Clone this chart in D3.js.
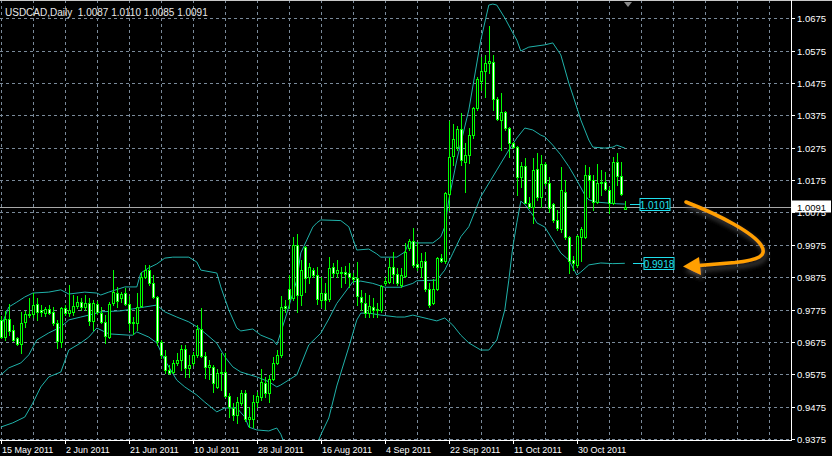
<!DOCTYPE html>
<html>
<head>
<meta charset="utf-8">
<script src="https://cdn.jsdelivr.net/npm/d3@7"></script>
<style>
  html, body { margin: 0; padding: 0; background: #000; }
  svg { display: block; font-family: "Liberation Sans", Arial, sans-serif; }
</style>
</head>
<body>
<div id="chart"></div>
<script>
// USDCAD daily candles, 15 May 2011 .. 4 Nov 2011
const OPEN = [0.9743,0.9690,0.9746,0.9712,0.9687,0.9669,0.9737,0.9761,0.9761,0.9792,0.9774,0.9764,0.9777,0.9768,0.9734,0.9675,0.9780,0.9764,0.9768,0.9786,
  0.9798,0.9783,0.9795,0.9740,0.9792,0.9764,0.9737,0.9690,0.9795,0.9826,0.9811,0.9826,0.9792,0.9737,0.9734,0.9786,0.9876,0.9897,0.9857,0.9814,
  0.9675,0.9632,0.9588,0.9582,0.9610,0.9619,0.9653,0.9594,0.9610,0.9635,0.9715,0.9632,0.9598,0.9598,0.9536,0.9582,0.9582,0.9508,0.9471,0.9449,
  0.9486,0.9517,0.9437,0.9437,0.9489,0.9505,0.9548,0.9517,0.9561,0.9610,0.9635,0.9786,0.9839,0.9811,0.9975,0.9820,0.9968,0.9876,0.9897,0.9882,
  0.9805,0.9826,0.9808,0.9907,0.9888,0.9891,0.9891,0.9888,0.9876,0.9873,0.9814,0.9795,0.9764,0.9783,0.9774,0.9774,0.9857,0.9860,0.9907,0.9885,
  0.9851,0.9879,0.9965,0.9987,0.9916,0.9907,0.9925,0.9839,0.9795,0.9839,0.9934,0.9925,1.0132,1.0250,1.0277,1.0333,1.0231,1.0253,1.0314,1.0398,
  1.0481,1.0512,1.0537,1.0540,1.0426,1.0361,1.0386,1.0336,1.0290,1.0277,1.0185,1.0219,1.0104,1.0092,1.0209,1.0123,1.0225,1.0166,1.0101,1.0052,
  1.0024,1.0138,0.9999,0.9928,0.9913,0.9999,0.9999,1.0191,1.0175,1.0107,1.0166,1.0169,1.0144,1.0103,1.0231,1.0188,1.0087]
const HIGH = [0.9755,0.9771,0.9792,0.9727,0.9690,0.9768,0.9771,0.9811,0.9826,0.9811,0.9789,0.9783,0.9789,0.9783,0.9743,0.9783,0.9789,0.9851,0.9820,0.9817,
  0.9811,0.9820,0.9811,0.9805,0.9802,0.9783,0.9758,0.9798,0.9897,0.9845,0.9829,0.9842,0.9817,0.9752,0.9826,0.9891,0.9913,0.9913,0.9882,0.9816,
  0.9681,0.9650,0.9604,0.9619,0.9641,0.9665,0.9665,0.9635,0.9644,0.9727,0.9780,0.9644,0.9619,0.9604,0.9591,0.9641,0.9641,0.9517,0.9486,0.9505,
  0.9527,0.9527,0.9474,0.9511,0.9520,0.9591,0.9567,0.9573,0.9628,0.9650,0.9817,0.9805,0.9882,0.9999,1.0008,0.9928,0.9970,0.9919,0.9904,0.9907,
  0.9876,0.9857,0.9937,0.9919,0.9928,0.9907,0.9910,0.9919,0.9888,0.9922,0.9836,0.9826,0.9820,0.9811,0.9795,0.9851,0.9876,0.9934,0.9953,0.9904,
  0.9904,0.9981,0.9993,1.0027,0.9984,0.9950,0.9953,0.9857,0.9870,0.9937,0.9947,1.0138,1.0358,1.0348,1.0342,1.0382,1.0290,1.0336,1.0401,1.0494,
  1.0555,1.0562,1.0650,1.0562,1.0432,1.0444,1.0389,1.0339,1.0292,1.0281,1.0231,1.0243,1.0123,1.0243,1.0259,1.0253,1.0231,1.0185,1.0104,1.0083,
  1.0216,1.0175,1.0002,0.9941,1.0004,1.0030,1.0222,1.0216,1.0191,1.0225,1.0206,1.0200,1.0154,1.0246,1.0259,1.0231,1.0110]
const LOW = [0.9687,0.9681,0.9696,0.9678,0.9665,0.9641,0.9721,0.9752,0.9752,0.9743,0.9755,0.9755,0.9761,0.9727,0.9656,0.9659,0.9758,0.9755,0.9758,0.9780,
  0.9774,0.9774,0.9727,0.9712,0.9761,0.9734,0.9672,0.9687,0.9789,0.9783,0.9798,0.9789,0.9712,0.9700,0.9712,0.9783,0.9873,0.9851,0.9811,0.9665,
  0.9625,0.9579,0.9576,0.9579,0.9604,0.9588,0.9567,0.9567,0.9604,0.9628,0.9628,0.9564,0.9561,0.9520,0.9533,0.9527,0.9505,0.9443,0.9434,0.9425,
  0.9480,0.9431,0.9412,0.9412,0.9474,0.9496,0.9505,0.9489,0.9557,0.9607,0.9628,0.9768,0.9780,0.9805,0.9768,0.9789,0.9829,0.9857,0.9876,0.9792,
  0.9783,0.9777,0.9802,0.9876,0.9876,0.9845,0.9857,0.9845,0.9860,0.9789,0.9774,0.9752,0.9752,0.9752,0.9752,0.9768,0.9851,0.9857,0.9857,0.9851,
  0.9845,0.9876,0.9959,0.9907,0.9897,0.9876,0.9832,0.9783,0.9793,0.9836,0.9922,0.9919,1.0083,1.0222,1.0268,1.0222,1.0138,1.0228,1.0305,1.0392,
  1.0453,1.0432,1.0505,1.0392,1.0361,1.0268,1.0330,1.0246,1.0274,1.0129,1.0154,1.0103,1.0089,1.0043,1.0114,1.0092,1.0160,1.0077,1.0046,1.0021,
  1.0015,0.9993,0.9888,0.9897,0.9907,0.9925,0.9996,1.0123,1.0083,1.0103,1.0129,1.0144,1.0073,1.0101,1.0160,1.0129,1.0085]
const CLOSE = [0.9690,0.9746,0.9709,0.9681,0.9669,0.9734,0.9761,0.9758,0.9789,0.9768,0.9768,0.9777,0.9764,0.9734,0.9678,0.9780,0.9764,0.9774,0.9786,0.9798,
  0.9783,0.9795,0.9740,0.9795,0.9768,0.9737,0.9693,0.9792,0.9829,0.9802,0.9823,0.9792,0.9734,0.9733,0.9783,0.9876,0.9897,0.9857,0.9814,0.9678,
  0.9635,0.9588,0.9579,0.9610,0.9619,0.9653,0.9594,0.9604,0.9635,0.9715,0.9632,0.9598,0.9604,0.9548,0.9579,0.9579,0.9508,0.9474,0.9449,0.9489,
  0.9517,0.9437,0.9443,0.9489,0.9508,0.9551,0.9517,0.9561,0.9610,0.9635,0.9783,0.9780,0.9808,0.9975,0.9820,0.9897,0.9873,0.9907,0.9882,0.9808,
  0.9826,0.9805,0.9904,0.9888,0.9897,0.9888,0.9886,0.9876,0.9870,0.9817,0.9798,0.9764,0.9786,0.9774,0.9777,0.9848,0.9863,0.9907,0.9885,0.9857,
  0.9882,0.9953,0.9987,0.9913,0.9907,0.9925,0.9839,0.9789,0.9839,0.9934,0.9925,1.0135,1.0246,1.0302,1.0333,1.0237,1.0253,1.0314,1.0398,1.0487,
  1.0512,1.0537,1.0542,1.0426,1.0364,1.0386,1.0336,1.0290,1.0277,1.0185,1.0219,1.0104,1.0092,1.0206,1.0123,1.0225,1.0166,1.0089,1.0052,1.0027,
  1.0144,0.9999,0.9925,0.9919,1.0002,1.0024,1.0191,1.0175,1.0107,1.0166,1.0169,1.0148,1.0103,1.0231,1.0188,1.0132,1.0091]

// Bollinger bands as [bar, price]
const BB_UPPER = [[0,0.9721],[2,0.9783],[4,0.9798],[6,0.9814],[8,0.9826],[12,0.9829],[15,0.9836],[17,0.9823],[21,0.9829],[24,0.9826],
  [25,0.9820],[27,0.9829],[31,0.9845],[34,0.9845],[35,0.9888],[37,0.9904],[39,0.9916],[41,0.9934],[43,0.9937],[47,0.9937],
  [49,0.9922],[50,0.9897],[54,0.9888],[55,0.9845],[57,0.9774],[59,0.9718],[60,0.9709],[63,0.9715],[65,0.9696],[68,0.9681],
  [69,0.9666],[71,0.9743],[74,0.9866],[75,0.9950],[78,1.0030],[79,1.0043],[80,1.0052],[85,1.0050],[87,1.0031],[89,0.9959],
  [92,0.9962],[94,0.9947],[95,0.9937],[99,0.9937],[101,0.9953],[102,0.9981],[108,0.9981],[109,0.9990],[110,1.0000],[111,1.0031],
  [112,1.0114],[114,1.0237],[117,1.0392],[120,1.0608],[122,1.0716],[123,1.0719],[124,1.0716],[126,1.0676],[128,1.0630],[129,1.0608],
  [130,1.0574],[132,1.0586],[136,1.0593],[138,1.0599],[140,1.0562],[142,1.0475],[143,1.0438],[145,1.0361],[147,1.0299],[148,1.0277],
  [151,1.0274],[153,1.0277],[154,1.0283],[156,1.0274]]
const BB_MIDDLE = [[0,0.9573],[2,0.9595],[5,0.9610],[7,0.9635],[9,0.9681],[12,0.9703],[15,0.9721],[17,0.9743],[20,0.9752],[23,0.9761],
  [25,0.9768],[30,0.9771],[33,0.9777],[36,0.9783],[39,0.9789],[41,0.9768],[44,0.9752],[47,0.9737],[49,0.9722],[51,0.9703],
  [54,0.9671],[56,0.9629],[58,0.9598],[60,0.9582],[64,0.9567],[67,0.9552],[69,0.9536],[70,0.9542],[74,0.9573],[77,0.9666],
  [80,0.9702],[82,0.9746],[84,0.9794],[87,0.9844],[88,0.9861],[90,0.9863],[93,0.9856],[96,0.9844],[100,0.9844],[103,0.9856],
  [104,0.9864],[109,0.9866],[111,0.9897],[113,0.9949],[115,1.0000],[117,1.0031],[120,1.0124],[124,1.0206],[127,1.0268],[129,1.0305],
  [131,1.0336],[133,1.0330],[135,1.0314],[136,1.0309],[138,1.0283],[140,1.0253],[142,1.0217],[144,1.0175],[146,1.0129],[147,1.0114],
  [149,1.0107],[152,1.0104],[154,1.0102],[156,1.0101]]
const BB_LOWER = [[0,0.9412],[3,0.9425],[6,0.9443],[8,0.9486],[10,0.9536],[12,0.9567],[15,0.9582],[17,0.9650],[20,0.9672],[22,0.9690],
  [24,0.9718],[26,0.9706],[27,0.9700],[32,0.9696],[33,0.9696],[34,0.9706],[37,0.9690],[39,0.9672],[41,0.9619],[44,0.9557],
  [46,0.9536],[49,0.9511],[51,0.9489],[54,0.9459],[56,0.9471],[59,0.9471],[61,0.9443],[62,0.9412],[64,0.9403],[67,0.9400],
  [69,0.9409],[70,0.9390],[72,0.9326],[75,0.9295],[77,0.9341],[79,0.9357],[80,0.9388],[82,0.9440],[84,0.9539],[87,0.9659],
  [89,0.9743],[90,0.9764],[92,0.9764],[95,0.9758],[99,0.9752],[101,0.9752],[103,0.9758],[107,0.9746],[109,0.9740],[111,0.9749],
  [113,0.9727],[115,0.9696],[117,0.9672],[120,0.9650],[122,0.9650],[124,0.9681],[126,0.9774],[127,0.9866],[128,0.9968],[129,1.0043],
  [130,1.0110],[131,1.0100],[133,1.0067],[134,1.0043],[136,1.0030],[138,0.9990],[140,0.9950],[142,0.9928],[144,0.9882],[145,0.9891],
  [147,0.9913],[150,0.9919],[153,0.9917],[156,0.9918]]

const PRICE_TICKS = [0.9375,0.9475,0.9575,0.9675,0.9775,0.9875,0.9975,1.0075,1.0175,1.0275,1.0375,1.0475,1.0575,1.0675]
const DATE_BARS = [0,16,32,48,64,80,96,112,128,144]
const DATE_LABELS = ['15 May 2011','2 Jun 2011','21 Jun 2011','10 Jul 2011','28 Jul 2011','16 Aug 2011','4 Sep 2011','22 Sep 2011','11 Oct 2011','30 Oct 2011']
const SYMBOL = 'USDCAD,Daily'

const WIDTH = 832, HEIGHT = 456
const PLOT_W = 791, PLOT_H = 440
const GRID_STEP = 8
const CANDLE = '#00ff00', BAND = '#20b2aa', GRID = '#7a8a9a', LABEL_BOX = '#1fe0ee'
const FMT = d3.format('.4f')

let svg = d3.select('#chart').append('svg')
  .attr('width', WIDTH)
  .attr('height', HEIGHT)

svg.append('rect').attr('width', WIDTH).attr('height', HEIGHT).attr('fill', '#000')

let defs = svg.append('defs')
defs.append('clipPath').attr('id', 'plot')
  .append('rect').attr('width', PLOT_W).attr('height', PLOT_H)
let shadow = defs.append('filter').attr('id', 'shadow')
  .attr('x', '-20%').attr('y', '-20%').attr('width', '140%').attr('height', '140%')
shadow.append('feDropShadow')
  .attr('dx', 2).attr('dy', 4).attr('stdDeviation', 2.5)
  .attr('flood-color', '#505050').attr('flood-opacity', 0.9)

let x = d3.scaleLinear().domain([0, 1]).range([0.8, 4.8])
let y = d3.scaleLinear().domain([0.9372, 1.07316]).range([PLOT_H, 0])
let crisp = (v) => Math.round(v) + 0.5

let plot = svg.append('g').attr('clip-path', 'url(#plot)')

// grid
let lastBar = Math.floor((PLOT_W - 0.8) / 4)
plot.append('g')
  .selectAll('line')
  .data(d3.range(0, lastBar + 1, GRID_STEP))
  .enter().append('line')
    .attr('x1', (d) => crisp(x(d)))
    .attr('x2', (d) => crisp(x(d)))
    .attr('y1', 0).attr('y2', PLOT_H)
    .attr('stroke', GRID).attr('stroke-dasharray', '3,3')

plot.append('g')
  .selectAll('line')
  .data(PRICE_TICKS)
  .enter().append('line')
    .attr('x1', 0).attr('x2', PLOT_W)
    .attr('y1', (d) => crisp(y(d)))
    .attr('y2', (d) => crisp(y(d)))
    .attr('stroke', GRID).attr('stroke-dasharray', '3,3')

// bollinger bands
let bandLine = d3.line()
  .x((d) => x(d[0]))
  .y((d) => y(d[1]))

plot.append('g')
  .selectAll('path')
  .data([BB_UPPER, BB_MIDDLE, BB_LOWER])
  .enter().append('path')
    .attr('d', bandLine)
    .attr('fill', 'none')
    .attr('stroke', BAND)
    .attr('stroke-width', 1)

// bid line
let bid = CLOSE[CLOSE.length - 1]
plot.append('line')
  .attr('x1', 0).attr('x2', PLOT_W)
  .attr('y1', crisp(y(bid))).attr('y2', crisp(y(bid)))
  .attr('stroke', '#a8a8a8')

// candles
let bars = d3.range(OPEN.length).map((i) => ({ i: i, o: OPEN[i], h: HIGH[i], l: LOW[i], c: CLOSE[i] }))

let candle = plot.append('g')
  .selectAll('g')
  .data(bars)
  .enter().append('g')

candle.append('rect')
  .attr('x', (d) => Math.round(x(d.i)))
  .attr('y', (d) => Math.round(y(d.h)))
  .attr('width', 1)
  .attr('height', (d) => Math.round(y(d.l)) - Math.round(y(d.h)) + 1)
  .attr('fill', CANDLE)

candle.each(function(d) {
  let g = d3.select(this)
  let cx = Math.round(x(d.i))
  let top = Math.round(y(Math.max(d.o, d.c)))
  let bot = Math.round(y(Math.min(d.o, d.c)))
  g.append('rect')
    .attr('x', cx - 1).attr('y', top)
    .attr('width', 3).attr('height', Math.max(1, bot - top + 1))
    .attr('fill', CANDLE)
  if (bot - top >= 2) {
    g.append('rect')
      .attr('x', cx).attr('y', top + 1)
      .attr('width', 1).attr('height', bot - top - 1)
      .attr('fill', d.c > d.o ? '#000' : '#fff')
  }
})

// band end labels
let endBar = OPEN.length - 1
let endLabels = [
  { value: BB_MIDDLE[BB_MIDDLE.length - 1][1], gap: 5, len: 10 },
  { value: BB_LOWER[BB_LOWER.length - 1][1], gap: 8, len: 11 }
]
let endG = svg.append('g')
  .selectAll('g')
  .data(endLabels)
  .enter().append('g')
    .attr('transform', (d) => 'translate(' + [Math.round(x(endBar)) + d.gap, crisp(y(d.value))] + ')')

endG.append('line')
  .attr('x1', 0).attr('x2', (d) => d.len)
  .attr('stroke', LABEL_BOX)
endG.append('rect')
  .attr('x', (d) => d.len).attr('y', -6)
  .attr('width', 30).attr('height', 12)
  .attr('fill', '#000').attr('stroke', LABEL_BOX)
endG.append('text')
  .attr('x', (d) => d.len + 15).attr('y', 4)
  .attr('text-anchor', 'middle')
  .attr('font-size', '10px')
  .attr('fill', LABEL_BOX)
  .text((d) => FMT(d.value))

// axes
svg.append('line')
  .attr('x1', 0).attr('x2', WIDTH)
  .attr('y1', 0.5).attr('y2', 0.5)
  .attr('stroke', '#c8c8c8')
svg.append('line')
  .attr('x1', PLOT_W + 0.5).attr('x2', PLOT_W + 0.5)
  .attr('y1', 0).attr('y2', PLOT_H + 1)
  .attr('stroke', '#fff')
svg.append('line')
  .attr('x1', 0).attr('x2', PLOT_W + 1)
  .attr('y1', PLOT_H + 0.5).attr('y2', PLOT_H + 0.5)
  .attr('stroke', '#fff')

let priceTick = svg.append('g')
  .selectAll('g')
  .data(PRICE_TICKS)
  .enter().append('g')
    .attr('transform', (d) => 'translate(' + [PLOT_W, crisp(y(d))] + ')')
priceTick.append('line').attr('x1', 0).attr('x2', 4).attr('stroke', '#fff')
priceTick.append('text')
  .attr('x', 6).attr('y', 3.5)
  .attr('font-size', '9.5px').attr('fill', '#fff')
  .text((d) => FMT(d))

// bid label
let bidY = crisp(y(bid))
svg.append('rect')
  .attr('x', PLOT_W + 1).attr('y', bidY - 7)
  .attr('width', 39).attr('height', 12)
  .attr('fill', '#fff')
svg.append('text')
  .attr('x', PLOT_W + 6).attr('y', bidY + 3)
  .attr('font-size', '9.5px').attr('fill', '#000')
  .text(FMT(bid))

let dateTick = svg.append('g')
  .selectAll('g')
  .data(DATE_BARS)
  .enter().append('g')
    .attr('transform', (d) => 'translate(' + [crisp(x(d)), PLOT_H] + ')')
dateTick.append('line').attr('y1', 0).attr('y2', 4).attr('stroke', '#fff')
dateTick.append('text')
  .attr('x', 0.5).attr('y', 13)
  .attr('font-size', '9px').attr('fill', '#fff')
  .text((d, i) => DATE_LABELS[i])

// chart shift marker
svg.append('path')
  .attr('d', 'M624,2L632,2L628,7Z')
  .attr('fill', '#8a8a8a')

// title
svg.append('text')
  .attr('x', 5).attr('y', 15.5)
  .attr('font-size', '10px')
  .attr('fill', '#e8e8e8')
  .style('white-space', 'pre')
  .text(SYMBOL + '  ' + [OPEN[endBar], HIGH[endBar], LOW[endBar], CLOSE[endBar]].map(FMT).join(' '))

// hand-drawn arrow annotation
let arrow = svg.append('g').attr('filter', 'url(#shadow)')
arrow.append('path')
  .attr('d', 'M686,202C722,216 753,233 761,245C768,256 758,260 735,262.5L699,265.5')
  .attr('fill', 'none')
  .attr('stroke', '#ff9f00')
  .attr('stroke-width', 3.5)
  .attr('stroke-linecap', 'round')
arrow.append('path')
  .attr('d', 'M683,266.5L699,257L701,275Z')
  .attr('fill', '#ff9f00')
</script>
</body>
</html>
